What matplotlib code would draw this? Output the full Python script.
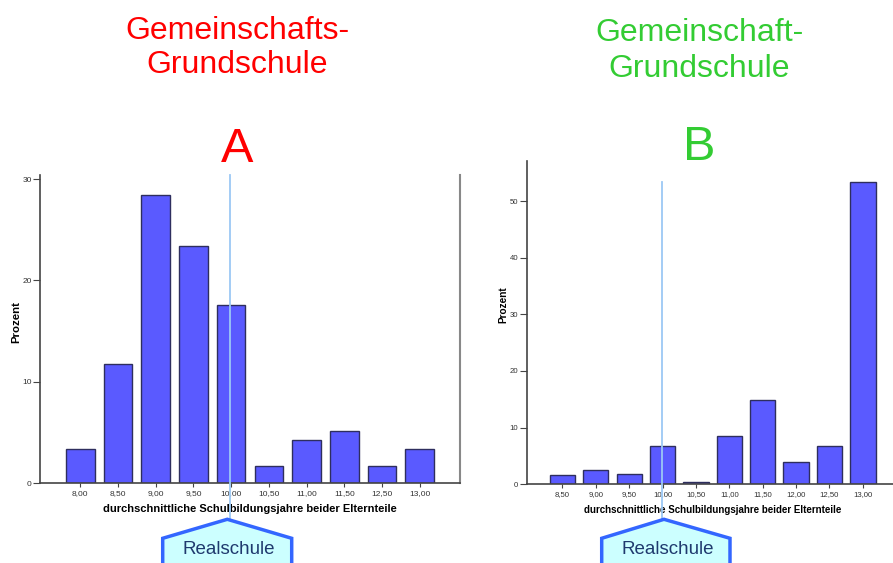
import matplotlib
matplotlib.use("Agg")
import matplotlib.pyplot as plt
from matplotlib.patches import Polygon

plt.rcParams['font.family'] = ['Liberation Sans', 'DejaVu Sans']

# ---- data ----
cats_a = ["8,00", "8,50", "9,00", "9,50", "10,00", "10,50", "11,00", "11,50", "12,50", "13,00"]
vals_a = [3.4, 11.7, 28.4, 23.4, 17.6, 1.7, 4.2, 5.1, 1.7, 3.4]
cats_b = ["8,50", "9,00", "9,50", "10,00", "10,50", "11,00", "11,50", "12,00", "12,50", "13,00"]
vals_b = [1.6, 2.5, 1.9, 6.7, 0.35, 8.5, 14.9, 3.9, 6.7, 53.4]
yticks_a = [0, 10, 20, 30]
yticks_b = [0, 10, 20, 30, 40, 50]
marker_cat = "10,00"

title_a = "Gemeinschafts-\nGrundschule"
title_b = "Gemeinschaft-\nGrundschule"
xlabel = "durchschnittliche Schulbildungsjahre beider Elternteile"
ylabel = "Prozent"
box_text = "Realschule"

W, H = 893, 563
fig = plt.figure(figsize=(W / 100, H / 100), dpi=100)

bar_color = "#5a5aff"
edge_color = "#2e2e5e"
axis_color = "#444444"
line_color = "#9cc8f5"


def fx(px):
    return px / W


def fy(py):
    return 1 - py / H


def make_axes(left, top, right, bottom, cats, vals, yticks, ymax, xl_size, tick_size, right_spine):
    ax = fig.add_axes([fx(left), fy(bottom), fx(right) - fx(left), fy(top) - fy(bottom)])
    x = list(range(len(cats)))
    ax.bar(x, vals, width=0.76, color=bar_color, edgecolor=edge_color, linewidth=1.0, zorder=2)
    ax.set_xlim(-1.07, len(cats) - 1 + 1.07)
    ax.set_ylim(0, ymax)
    ax.set_xticks(x)
    ax.set_xticklabels(cats, fontsize=tick_size, color="#333333")
    ax.set_yticks(yticks)
    ax.set_yticklabels([str(t) for t in yticks], fontsize=tick_size, color="#333333")
    ax.tick_params(axis="y", length=5, width=0.8, color=axis_color, pad=1)
    ax.tick_params(axis="x", length=3, width=0.8, color=axis_color, pad=2)
    ax.spines["top"].set_visible(False)
    ax.spines["right"].set_visible(right_spine)
    ax.spines["right"].set_color("#888888")
    ax.spines["right"].set_linewidth(1.5)
    for s in ("left", "bottom"):
        ax.spines[s].set_color(axis_color)
        ax.spines[s].set_linewidth(1.2)
    ax.set_xlabel(xlabel, fontsize=xl_size, fontweight="bold", labelpad=5)
    ax.patch.set_visible(False)
    return ax


axA = make_axes(40, 175, 460, 483, cats_a, vals_a, yticks_a, 30.4, 8.0, 6.0, True)
axA.set_ylabel(ylabel, fontsize=8.2, fontweight="bold")
axA.yaxis.set_label_coords(fx(21), fy(322), transform=fig.transFigure)
axB = make_axes(526.7, 161, 898.6, 484.3, cats_b, vals_b, yticks_b, 57.06, 7.0, 5.6, False)
axB.set_ylabel(ylabel, fontsize=7.2, fontweight="bold")
axB.yaxis.set_label_coords(fx(508), fy(305), transform=fig.transFigure)

# marker lines at 10,00
ia = cats_a.index(marker_cat)
ib = cats_b.index(marker_cat)
axA.axvline(ia - 0.03, ymin=-0.117, ymax=1.0, color=line_color, lw=1.3, clip_on=False, zorder=3)
axB.axvline(ib - 0.03, ymin=-0.107, ymax=0.936, color=line_color, lw=1.3, clip_on=False, zorder=3)

fig.text(fx(237.5), fy(48), title_a, color="#ff0000", fontsize=23, ha="center", va="center",
         linespacing=1.2)
fig.text(fx(699.5), fy(51), title_b, color="#33cc33", fontsize=23, ha="center", va="center",
         linespacing=1.22)
fig.text(fx(237), fy(150), "A", color="#ff0000", fontsize=35, ha="center", va="center")
fig.text(fx(699), fy(147), "B", color="#33cc33", fontsize=35, ha="center", va="center")

ov2 = fig.add_axes([0, 0, 1, 1], zorder=5)
ov2.set_xlim(0, W)
ov2.set_ylim(H, 0)
ov2.axis("off")
for (l, r, apex) in [(162.7, 291.7, 227.3), (601.7, 730, 664)]:
    poly = Polygon([(l, 575), (l, 538.3), (apex, 519.3), (r, 538.3), (r, 575)], closed=True,
                   facecolor="#ccffff", edgecolor="#3366ff", linewidth=2.5, clip_on=False)
    ov2.add_patch(poly)
    ov2.text((l + r) / 2 + 2, 549, box_text, color="#1f3a6e", fontsize=13.5, ha="center", va="center")

fig.savefig("out.png", dpi=100)
